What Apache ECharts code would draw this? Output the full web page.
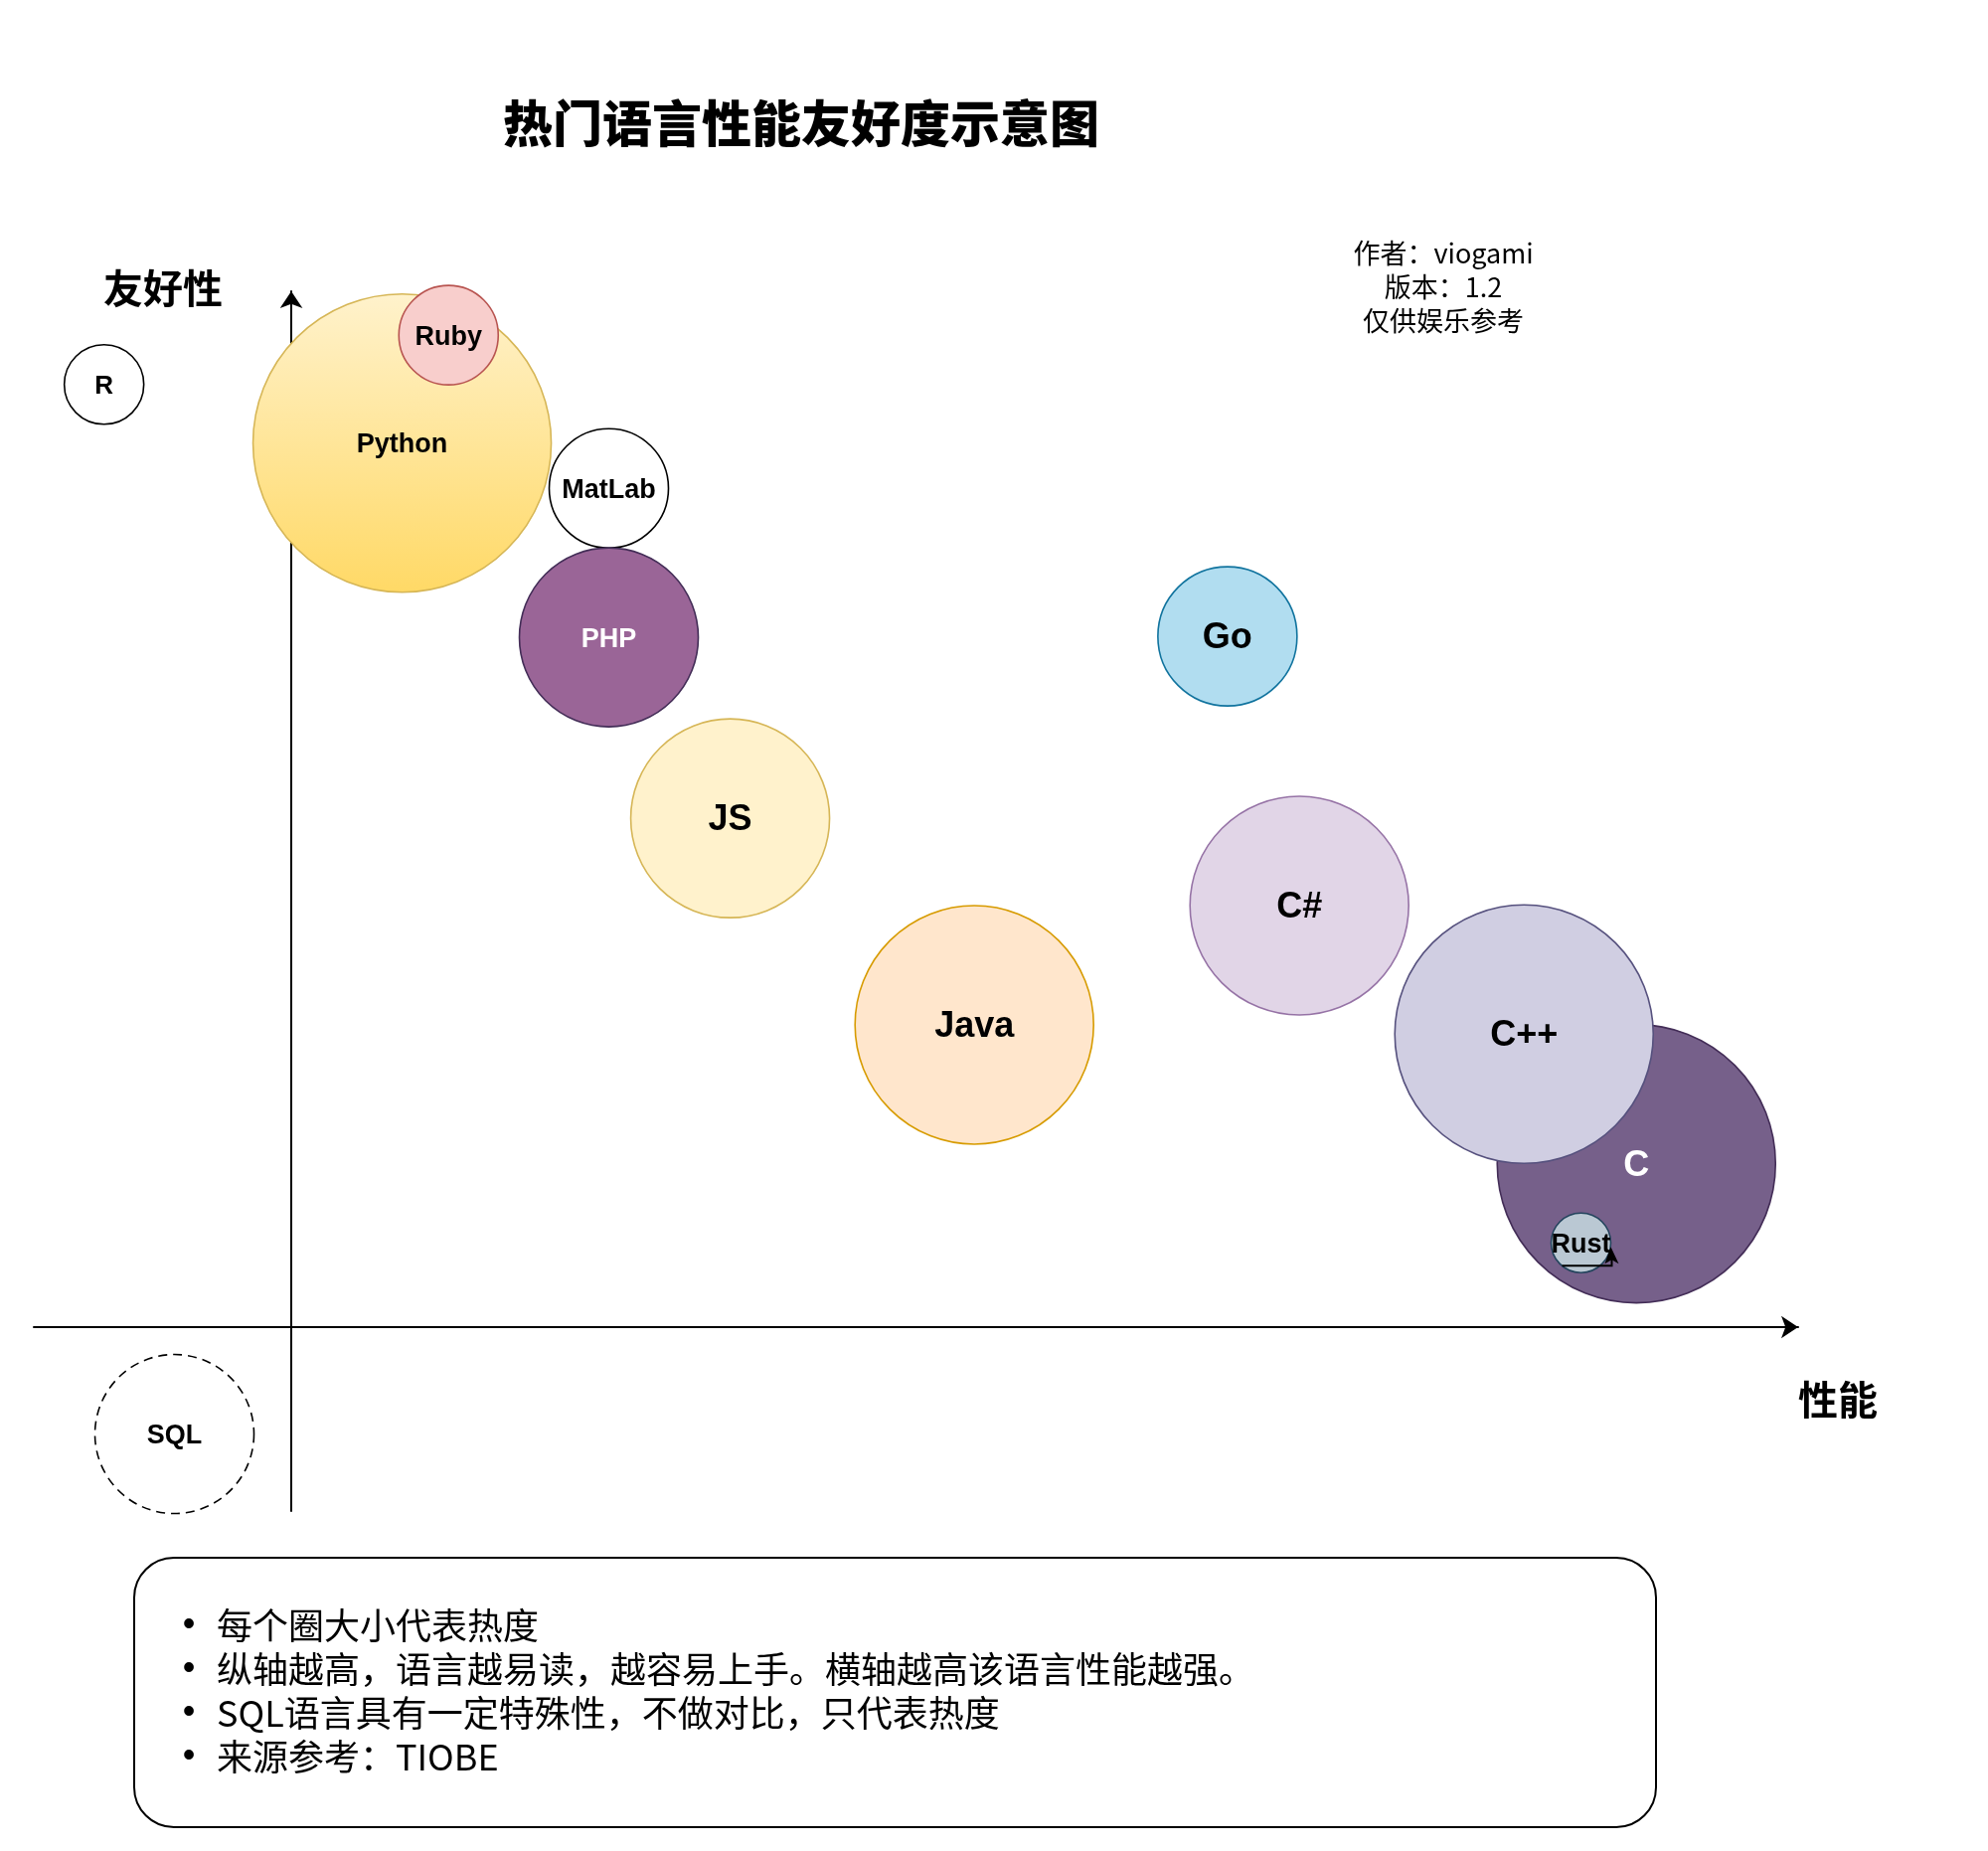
<!DOCTYPE html>
<html>
<head>
<meta charset="utf-8">
<title>热门语言性能友好度示意图</title>
<script src="https://cdn.jsdelivr.net/npm/echarts@6/dist/echarts.min.js"></script>
<style>
	html, body { margin: 0; padding: 0; background: #fff; }
	#chart { width: 2000px; height: 1862px; }
</style>
</head>
<body>
<div id="chart"></div>
<script>
// Languages, in drawing order (later ones sit on top)
const languages = ["Python", "Ruby", "R", "MatLab", "PHP", "JS", "Go", "C#", "Java", "C", "C++", "Rust", "SQL"];
// 性能 (performance), 0..100
const performance = [7.4, 10.5, -12.5, 21.2, 21.2, 29.3, 62.5, 67.3, 45.6, 89.8, 82.3, 86.1, -7.8];
// 友好性 (friendliness), 0..100
const friendliness = [86.0, 96.5, 91.7, 81.6, 67.1, 49.5, 67.2, 41.0, 29.4, 15.9, 28.5, 8.2, -10.4];
// 热度 (popularity) -> circle size
const heat = [15, 5, 4, 6, 9, 10, 7, 11, 12, 14, 13, 3, 8];

const fillColors = ["python", "#f8cecc", "#ffffff", "#ffffff", "#9a6597", "#fff2cc", "#b1ddf0", "#e1d5e7", "#ffe6cc", "#76608a", "#d0cee2", "#bac8d3", "#ffffff"];
const strokeColors = ["#d6b656", "#b85450", "#000000", "#000000", "#432d57", "#d6b656", "#10739e", "#9673a6", "#d79b00", "#432d57", "#56517e", "#23445d", "#000000"];
const labelColors = ["#000", "#000", "#000", "#000", "#fff", "#000", "#000", "#000", "#000", "#fff", "#000", "#000", "#000"];
const labelSizes = [27, 27, 26, 27, 27, 36, 36, 36, 36, 36, 36, 27, 27];

const notes = [
	"每个圈大小代表热度",
	"纵轴越高，语言越易读，越容易上手。横轴越高该语言性能越强。",
	"SQL语言具有一定特殊性，不做对比，只代表热度",
	"来源参考：TIOBE",
];

const latin = "'Liberation Sans', Arial, Helvetica, sans-serif";
const cjk = "'Noto Sans CJK SC', 'Liberation Sans', sans-serif";

const chart = echarts.init(document.getElementById("chart"), null, { renderer: "canvas" });

const points = languages.map((name, i) => {
	let color = fillColors[i];
	if (color === "python") {
		// Python is filled with a top-to-bottom yellow gradient
		color = {
			type: "linear", x: 0, y: 0, x2: 0, y2: 1,
			colorStops: [
				{ offset: 0, color: "#fff2cc" },
				{ offset: 1, color: "#ffd966" },
			],
		};
	}
	return {
		name: name,
		value: [performance[i], friendliness[i], heat[i]],
		itemStyle: {
			color: color,
			borderColor: strokeColors[i],
			borderWidth: 1.6,
			borderType: name === "SQL" ? [9, 6] : "solid",
			opacity: 1,
		},
		label: {
			color: labelColors[i],
			fontSize: labelSizes[i],
		},
	};
});

chart.setOption({
	animation: false,
	backgroundColor: "#ffffff",
	grid: {
		left: 34,
		right: 191,
		top: 293,
		bottom: 342,
		outerBoundsMode: "none",
	},
	xAxis: {
		type: "value",
		min: -17.19,
		max: 100.6,
		splitLine: { show: false },
		axisTick: { show: false },
		axisLabel: { show: false },
		axisLine: {
			show: true,
			onZero: true,
			symbol: ["none", "arrow"],
			symbolSize: [17, 17],
			lineStyle: { color: "#000", width: 2 },
		},
	},
	yAxis: {
		type: "value",
		min: -17.89,
		max: 100.77,
		splitLine: { show: false },
		axisTick: { show: false },
		axisLabel: { show: false },
		axisLine: {
			show: true,
			onZero: true,
			symbol: ["none", "arrow"],
			symbolSize: [17, 17],
			lineStyle: { color: "#000", width: 2 },
		},
	},
	series: [
		{
			type: "scatter",
			data: points,
			symbol: "circle",
			symbolSize: (val) => val[2] * 20,
			label: {
				show: true,
				position: "inside",
				offset: [0, 2],
				formatter: "{b}",
				fontFamily: latin,
				fontWeight: "bold",
			},
			emphasis: { disabled: true },
			z: 3,
		},
	],
	graphic: [
		{
			id: "title",
			type: "text",
			x: 806, y: 124,
			style: {
				text: "热门语言性能友好度示意图",
				font: "900 50px " + cjk,
				fill: "#000",
				align: "center",
				verticalAlign: "middle",
			},
		},
		{
			id: "yname",
			type: "text",
			x: 164, y: 290,
			style: {
				text: "友好性",
				font: "bold 40px " + cjk,
				fill: "#000",
				align: "center",
				verticalAlign: "middle",
			},
		},
		{
			id: "xname",
			type: "text",
			x: 1849, y: 1408,
			style: {
				text: "性能",
				font: "bold 40px " + cjk,
				fill: "#000",
				align: "center",
				verticalAlign: "middle",
			},
		},
		{
			id: "author",
			type: "text",
			x: 1452, y: 289,
			style: {
				text: "作者：viogami\n版本：1.2\n仅供娱乐参考",
				font: "27px " + cjk,
				lineHeight: 34,
				fill: "#000",
				align: "center",
				verticalAlign: "middle",
			},
		},
		{
			id: "noteBox",
			type: "rect",
			shape: { x: 135, y: 1567, width: 1531, height: 271, r: 40 },
			style: { fill: "#fff", stroke: "#000", lineWidth: 2 },
			z: 1,
		},
		{
			id: "noteBullets",
			type: "text",
			x: 190, y: 1701,
			style: {
				text: notes.map(() => "•").join("\n"),
				font: "36px " + latin,
				lineHeight: 44,
				fill: "#000",
				align: "center",
				verticalAlign: "middle",
			},
			z: 2,
		},
		{
			id: "noteText",
			type: "text",
			x: 218, y: 1701,
			style: {
				text: notes.join("\n"),
				font: "36px " + cjk,
				lineHeight: 44,
				fill: "#000",
				align: "left",
				verticalAlign: "middle",
			},
			z: 2,
		},
	],
});

// Small stray connector drawn over the Rust bubble in the original sketch
const rustIdx = languages.indexOf("Rust");
const rustPx = chart.convertToPixel({ gridIndex: 0 }, [performance[rustIdx], friendliness[rustIdx]]);
chart.setOption({
	graphic: [
		{
			id: "rustEdge",
			type: "polyline",
			shape: {
				points: [
					[rustPx[0] - 19, rustPx[1] + 23],
					[rustPx[0] + 31, rustPx[1] + 23],
					[rustPx[0] + 31, rustPx[1] + 12],
				],
			},
			style: { stroke: "#000", lineWidth: 2, fill: null },
			z: 10,
		},
		{
			id: "rustArrow",
			type: "polygon",
			shape: {
				points: [
					[rustPx[0] + 30, rustPx[1] + 4],
					[rustPx[0] + 38, rustPx[1] + 21],
					[rustPx[0] + 31, rustPx[1] + 17],
					[rustPx[0] + 24, rustPx[1] + 21],
				],
			},
			style: { fill: "#000" },
			z: 10,
		},
	],
});

window.addEventListener("resize", function () {
	chart.resize();
});
</script>
</body>
</html>
